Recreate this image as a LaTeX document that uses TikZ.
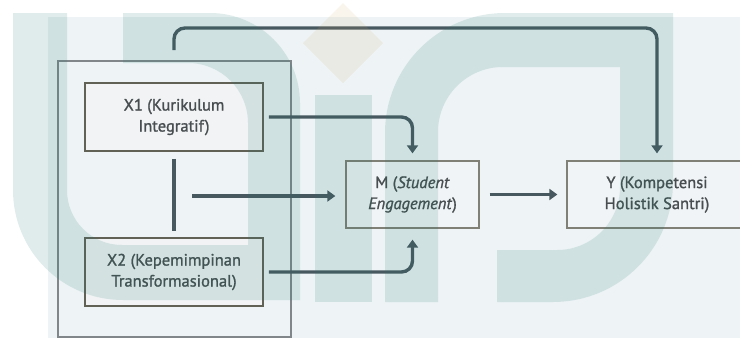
\documentclass[tikz,border=0pt]{standalone}
\usepackage{fontspec}
\setmainfont{PT Sans}[FakeBold=1.2]
\usetikzlibrary{arrows.meta,calc}
\definecolor{panel}{RGB}{238,243,246}
\definecolor{lineclr}{RGB}{72,88,95}
\definecolor{txt}{RGB}{72,77,80}
\definecolor{xborder}{RGB}{98,97,86}
\definecolor{mborder}{RGB}{128,128,118}
\definecolor{outerb}{RGB}{128,134,138}
\definecolor{xfill}{RGB}{241,243,245}
\definecolor{mfill}{RGB}{241,244,246}
\definecolor{wm}{RGB}{30,120,110}
\definecolor{wmgold}{RGB}{205,170,100}
\begin{document}
\begin{tikzpicture}[x=1pt,y=-1pt,
  lbl/.style={text=txt, align=center, inner sep=0pt, font=\fontsize{16.5pt}{21pt}\selectfont},
  xbox/.style={lbl, draw=xborder, line width=1.9pt, fill=xfill, minimum width=178pt, minimum height=68pt},
  mbox/.style={lbl, draw=mborder, line width=1.3pt, fill=mfill, minimum width=133pt, minimum height=67pt},
  groupbox/.style={draw=outerb, line width=1.2pt, minimum width=233pt, minimum height=276pt, inner sep=0pt},
  conn/.style={draw=lineclr, line width=3.4pt, rounded corners=11pt},
  arr/.style={conn, -{Triangle[width=11pt,length=8pt]}},
  wmshape/.style={fill=wm, fill opacity=0.14},
]
\useasboundingbox (0,0) rectangle (740,338);
% background panel
\fill[panel] (48,17) rectangle (740,338);

% nodes
\node[groupbox] (G) at (174.5,199) {};
\node[xbox] (X1) at (174,117) {X1 (Kurikulum\\Integratif)};
\node[xbox] (X2) at (174,272) {X2 (Kepemimpinan\\Transformasional)};
\node[mbox] (M) at (412.5,194.5) {M (\textit{Student}\\\textit{Engagement})};
\node[mbox, minimum width=180pt] (Y) at (657,194.5) {Y (Kompetensi\\Holistik Santri)};

\coordinate (topstart) at (174,50);
\coordinate (topbend) at (657,28);
\coordinate (midstart) at (192,196);

% connectors
\draw[arr, shorten >=7pt] (topstart) |- (topbend) -- (Y.north);
\draw[arr, shorten >=7pt] ([xshift=5pt]X1.east) -| (M.north);
\draw[arr, shorten >=11pt] ([xshift=5pt]X2.east) -| (M.south);
\draw[arr, shorten >=10pt] (midstart) -- (midstart -| M.west);
\draw[arr, shorten >=9pt, shorten <=10pt] (M.east) -- (Y.west);
\draw[conn, shorten <=7pt, shorten >=6pt] (X1.south) -- (X2.north);

% watermark
\fill[wmshape] (13,13) -- (13,190) .. controls (13,250.75) and (62.25,300) .. (123,300)
  -- (300,300) -- (300,103) .. controls (300,53.3) and (259.7,13) .. (210,13)
  -- (123,13) -- (123,63) -- (188,63) .. controls (221.1,63) and (248,89.9) .. (248,123)
  -- (248,245) -- (122,245) .. controls (91.6,245) and (67,220.4) .. (67,190)
  -- (67,13) -- cycle;
\fill[wmshape] (315,95) rectangle (372,302);
\fill[wmshape] (385,302) -- (385,133) .. controls (385,66.7) and (438.7,13) .. (505,13)
  -- (673,13) -- (673,182) .. controls (673,248.3) and (619.3,302) .. (553,302)
  -- (497,302) -- (497,250) -- (557,250) .. controls (591.8,250) and (620,221.8) .. (620,187)
  -- (620,67) -- (503,67) .. controls (467.1,67) and (438,96.1) .. (438,132)
  -- (438,302) -- cycle;
\fill[wmgold, fill opacity=0.12] (303,43) -- (343,3) -- (383,43) -- (343,83) -- cycle;
\end{tikzpicture}
\end{document}
